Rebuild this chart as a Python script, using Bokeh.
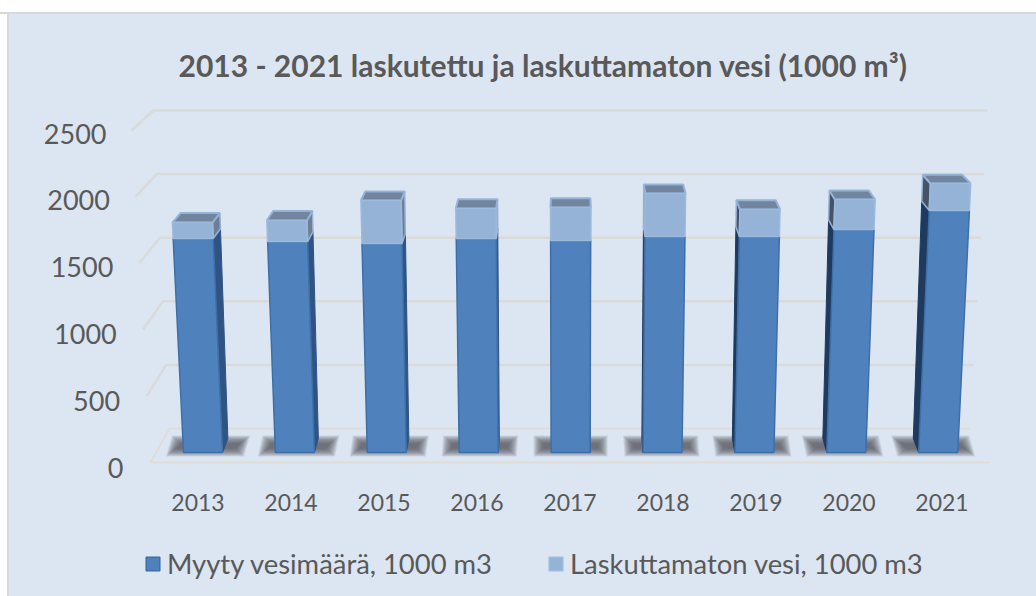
from bokeh.plotting import figure
from bokeh.models import (ColumnDataSource, Range1d, Legend, LegendItem)
from bokeh.core.properties import value
from bokeh.embed import file_html
from bokeh.resources import INLINE

years = ["2013", "2014", "2015", "2016", "2017", "2018", "2019", "2020", "2021"]
sold = [1621, 1598, 1583, 1621, 1606, 1636, 1636, 1689, 1833]
unbilled = [121, 160, 326, 227, 250, 326, 205, 228, 205]
y_ticks = [0, 500, 1000, 1500, 2000, 2500]
title_text = "2013 - 2021 laskutettu ja laskuttamaton vesi (1000 m³)"
series_names = ["Myyty vesimäärä, 1000 m3", "Laskuttamaton vesi, 1000 m3"]

FONT = "Lato"
TXT = "#595959"
W, H = 1036, 596

# pixel calibration of the fake 3D projection (window coordinates)
X0, XS = 202.5, 91.9      # bar centre of first category, px per category
Y0, YS = 452.0, 0.132     # y of value 0 at bar front, px per value
FT, FB = 90, H            # frame top/bottom in window px
def cx(px): return (px - X0) / XS
def vy(py): return (Y0 - py) / YS

HALF = 19.5 / XS
C = 4.0
def fx(i, side, v):
    x = i + side * HALF
    return x + (x - C) * 1.65e-5 * v
def bx(i, side, v):
    x = fx(i, side, v)
    return x - (x - C) * (0.0155 + 2.98e-6 * v)
def by(v):
    return v + 106 - 0.0195 * v

p = figure(frame_width=W, frame_height=FB - FT, min_border_left=0, min_border_right=0,
           min_border_top=FT, min_border_bottom=0,
           x_axis_type=None, y_axis_type=None, toolbar_location=None, output_backend="svg",
           x_range=Range1d(cx(0), cx(W)), y_range=Range1d(vy(FB), vy(FT)),
           title=title_text)
p.grid.visible = False
p.outline_line_color = None
p.background_fill_color = None
p.border_fill_color = None
p.title.align = "left"
p.title.text_font = FONT
p.title.text_font_style = "bold"
p.title.text_font_size = "30px"
p.title.text_color = TXT
p.title.standoff = 15
p.title.offset = 178

# wall & floor grid lines
gx, gy = [], []
for t in y_ticks[1:]:
    f = t / 2500
    gx.append([cx(150 - 19 * f), cx(169 - 16 * f), cx(970 + 17 * f)])
    gy.append([vy(462 - 0.1328 * t), vy(428 - 0.1272 * t), vy(428 - 0.1272 * t)])
p.multi_line(gx, gy, line_color="#D9D9D9", line_width=2.5, line_alpha=0.95)
p.multi_line([[cx(970), cx(169), cx(150), cx(989)]], [[vy(428), vy(428), vy(462), vy(462)]],
             line_color="#E0DDD8", line_width=2.2)

# soft floor shadows, built from stacked translucent shapes
LAYERS = 10
for s in range(LAYERS):
    sx, sy = [], []
    shrink = (LAYERS - 1 - s) * 1.0
    for i in range(len(years)):
        d = i - C
        lean = -d * 1.5 / XS
        l = i + (-37 - max(d, 0) * 1.0) / XS + shrink / XS
        r = i + (37 + max(-d, 0) * 1.0) / XS - shrink / XS
        b, t = vy(456 - shrink * 0.85), vy(435 + shrink * 0.85)
        sx.append([l, r, r + lean, l + lean])
        sy.append([b, b, t, t])
    p.patches(sx, sy, fill_color="#4A4C54", fill_alpha=0.13, line_color=None)

# 3D stacked bars
def faces():
    side_d = dict(xs=[], ys=[], c=[])
    side_l = dict(xs=[], ys=[], c=[])
    top = dict(xs=[], ys=[])
    front_d = dict(xs=[], ys=[])
    front_l = dict(xs=[], ys=[])
    for i in range(len(years)):
        a, b = sold[i], sold[i] + unbilled[i]
        s = 1 if i <= C else -1
        side_d["xs"].append([fx(i, s, 0), fx(i, s, a), bx(i, s, a), bx(i, s, 0)])
        side_d["ys"].append([0, a, by(a), by(0)])
        side_d["c"].append("#2F5484" if i <= C else "#1E3A5F")
        side_l["xs"].append([fx(i, s, a), fx(i, s, b), bx(i, s, b), bx(i, s, a)])
        side_l["ys"].append([a, b, by(b), by(a)])
        side_l["c"].append("#6E7F93" if i <= C else "#465364")
        top["xs"].append([fx(i, -1, b), fx(i, 1, b), bx(i, 1, b), bx(i, -1, b)])
        top["ys"].append([b, b, by(b), by(b)])
        front_d["xs"].append([fx(i, -1, 0), fx(i, 1, 0), fx(i, 1, a), fx(i, -1, a)])
        front_d["ys"].append([0, 0, a, a])
        front_l["xs"].append([fx(i, -1, a), fx(i, 1, a), fx(i, 1, b), fx(i, -1, b)])
        front_l["ys"].append([a, a, b, b])
    return side_d, side_l, top, front_d, front_l

side_d, side_l, top, front_d, front_l = faces()
p.patches("xs", "ys", source=ColumnDataSource(side_d), fill_color="c", line_color="c", line_width=1)
p.patches("xs", "ys", source=ColumnDataSource(side_l), fill_color="c", line_color="#95B3D7", line_width=1.5)
p.patches("xs", "ys", source=ColumnDataSource(top), fill_color="#72859F", line_color="#95B3D7", line_width=2)
r_dark = p.patches("xs", "ys", source=ColumnDataSource(front_d), fill_color="#4F81BD",
                   line_color="#3F6FA8", line_width=1.5)
r_light = p.patches("xs", "ys", source=ColumnDataSource(front_l), fill_color="#95B3D7",
                    line_color="#9DB9DB", line_width=1.5)

# value labels follow the slanted left edge of the wall
lx = [cx(123 - 17 * t / 2500) for t in y_ticks]
ly = [vy(467 - 0.1336 * t) for t in y_ticks]
p.text(lx, ly, text=[str(t) for t in y_ticks], text_font=value(FONT), text_font_size="27px",
       text_color=TXT, text_align="right", text_baseline="middle")

# category labels (their spacing differs slightly from the bars' because of the perspective)
p.text([cx(197.5 + 93 * i) for i in range(len(years))], [vy(502)] * len(years), text=years,
       text_font=value(FONT), text_font_size="23px", text_color=TXT,
       text_align="center", text_baseline="middle")

# legend
leg = Legend(items=[LegendItem(label=series_names[0], renderers=[r_dark]),
                    LegendItem(label=series_names[1], renderers=[r_light])],
             orientation="horizontal", location=(144, 16), glyph_width=17, glyph_height=17,
             label_standoff=6, spacing=55, padding=0, margin=0,
             label_text_font=FONT, label_text_font_size="27.4px", label_text_color=TXT,
             background_fill_alpha=0, border_line_color=None)
p.add_layout(leg, "center")

html = file_html(p, INLINE)
css = ("html,body{margin:0;padding:0;overflow:hidden;background-color:#DCE6F2;background-image:"
       "linear-gradient(#fff 12px,#D9D9D9 12px,#D9D9D9 14px,transparent 14px),"
       "linear-gradient(90deg,#fff 7px,#D9D9D9 7px,#D9D9D9 9px,transparent 9px);"
       "background-attachment:fixed;}")
html = html.replace("</head>", "<style>" + css + "</style></head>", 1)
open("out.html", "w").write(html)
